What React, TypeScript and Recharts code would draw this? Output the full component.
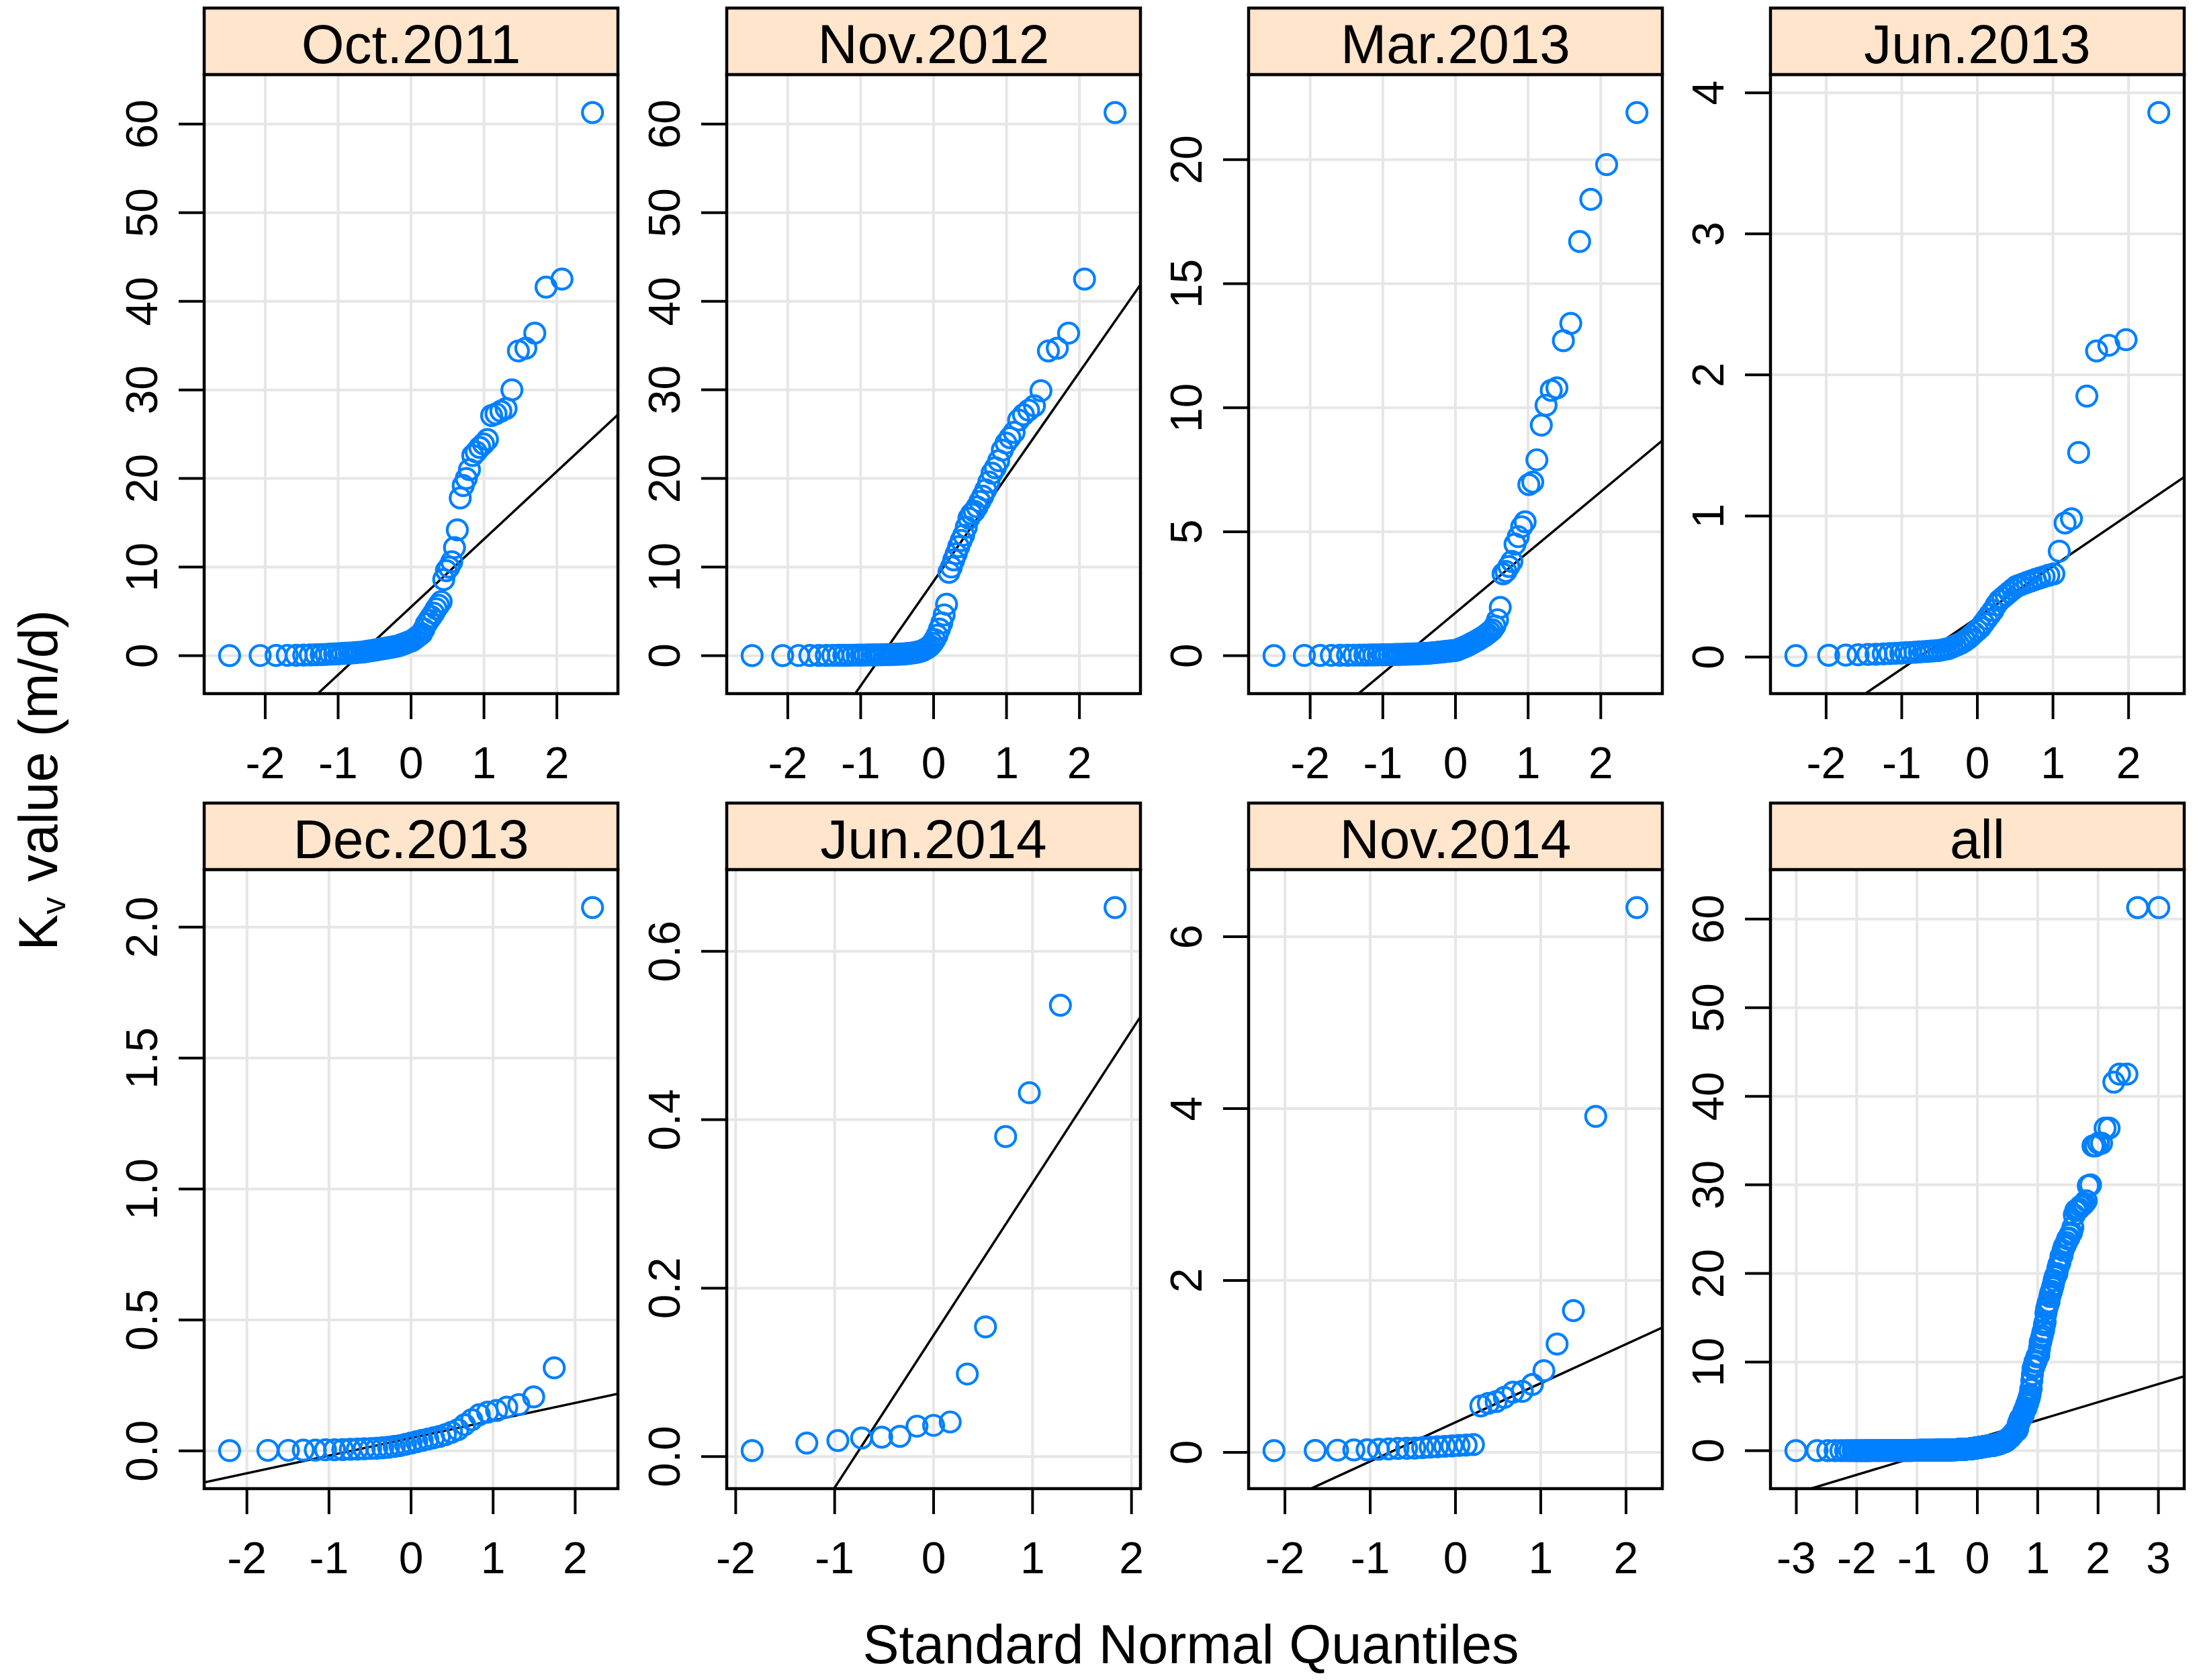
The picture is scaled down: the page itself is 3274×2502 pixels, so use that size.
import { ScatterChart, Scatter, XAxis, YAxis, CartesianGrid, ReferenceLine, ReferenceArea } from "recharts"

const FONT = '"Liberation Sans", Arial, Helvetica, sans-serif'

// sorted Kv samples (m/d)
const oct2011 = [
  0.01, 0.02, 0.03, 0.04, 0.05, 0.07, 0.08, 0.1, 0.13, 0.15,
  0.18, 0.2, 0.22, 0.25, 0.28, 0.3, 0.32, 0.35, 0.38, 0.4,
  0.45, 0.5, 0.55, 0.6, 0.65, 0.7, 0.75, 0.8, 0.85, 0.9,
  0.95, 1.0, 1.05, 1.1, 1.2, 1.3, 1.4, 1.5, 1.6, 1.7,
  1.9, 2.1, 2.3, 2.5, 3.0, 3.6, 4.0, 4.4, 4.8, 5.3,
  5.7, 6.1, 8.6, 9.6, 10.0, 10.6, 12.2, 14.2, 17.8, 19.2,
  20.0, 21.0, 22.6, 23.0, 23.5, 23.9, 24.4, 27.1, 27.3, 27.6,
  27.9, 30.0, 34.4, 34.7, 36.4, 41.6, 42.5, 61.3
]
const nov2012 = [
  0.005, 0.01, 0.015, 0.02, 0.025, 0.03, 0.035, 0.04, 0.045, 0.05,
  0.055, 0.06, 0.065, 0.07, 0.075, 0.08, 0.085, 0.09, 0.1, 0.11,
  0.12, 0.13, 0.14, 0.15, 0.16, 0.18, 0.2, 0.22, 0.25, 0.28,
  0.32, 0.36, 0.42, 0.5, 0.6, 0.75, 0.9, 1.1, 1.4, 1.8,
  2.3, 3.0, 3.7, 4.6, 5.8, 9.4, 10.0, 10.8, 11.5, 12.3,
  13.0, 13.6, 14.5, 15.5, 16.0, 16.3, 16.8, 17.4, 18.0, 18.7,
  19.6, 20.6, 21.2, 22.0, 23.2, 24.0, 24.6, 25.2, 26.6, 27.2,
  27.7, 28.2, 29.9, 34.4, 34.7, 36.4, 42.5, 61.3
]
const mar2013 = [
  0.005, 0.01, 0.012, 0.015, 0.018, 0.02, 0.022, 0.025, 0.028, 0.03,
  0.032, 0.035, 0.038, 0.04, 0.043, 0.046, 0.05, 0.053, 0.056, 0.06,
  0.064, 0.068, 0.072, 0.076, 0.08, 0.085, 0.09, 0.095, 0.1, 0.11,
  0.12, 0.13, 0.14, 0.15, 0.16, 0.17, 0.18, 0.19, 0.2, 0.21,
  0.22, 0.26, 0.3, 0.34, 0.38, 0.42, 0.47, 0.52, 0.57, 0.62,
  0.68, 0.74, 0.8, 0.88, 0.96, 1.05, 1.2, 1.45, 1.95, 3.3,
  3.4, 3.6, 3.8, 4.5, 4.8, 5.2, 5.4, 6.9, 7.0, 7.9,
  9.3, 10.1, 10.7, 10.8, 12.7, 13.4, 16.7, 18.4, 19.8, 21.9
]
const jun2013 = [
  0.01, 0.012, 0.014, 0.016, 0.018, 0.02, 0.022, 0.024, 0.026, 0.028,
  0.03, 0.032, 0.034, 0.036, 0.038, 0.04, 0.042, 0.044, 0.046, 0.05,
  0.055, 0.06, 0.07, 0.08, 0.09, 0.1, 0.115, 0.13, 0.15, 0.17,
  0.19, 0.21, 0.24, 0.27, 0.3, 0.33, 0.37, 0.4, 0.42, 0.44,
  0.46, 0.48, 0.5, 0.51, 0.52, 0.53, 0.54, 0.55, 0.56, 0.57,
  0.58, 0.59, 0.75, 0.95, 0.98, 1.45, 1.85, 2.17, 2.21, 2.25,
  3.86
]
const dec2013 = [
  0.001, 0.002, 0.002, 0.003, 0.003, 0.004, 0.004, 0.005, 0.006, 0.007,
  0.008, 0.009, 0.01, 0.012, 0.014, 0.017, 0.02, 0.025, 0.03, 0.035,
  0.04, 0.045, 0.05, 0.055, 0.062, 0.071, 0.081, 0.1, 0.119, 0.138,
  0.148, 0.154, 0.167, 0.177, 0.206, 0.317, 2.075
]
const jun2014 = [
  0.007, 0.016, 0.019, 0.022, 0.023, 0.024, 0.036, 0.037, 0.041, 0.098,
  0.154, 0.38, 0.432, 0.536, 0.652
]
const nov2014 = [
  0.02, 0.022, 0.025, 0.028, 0.03, 0.035, 0.04, 0.045, 0.048, 0.05,
  0.055, 0.06, 0.065, 0.07, 0.075, 0.08, 0.085, 0.09,
  0.54, 0.57, 0.59, 0.64, 0.7, 0.71, 0.79, 0.95, 1.26, 1.65, 3.91, 6.34
]

const panelNames = ["Oct.2011", "Nov.2012", "Mar.2013", "Jun.2013", "Dec.2013", "Jun.2014", "Nov.2014", "all"]
const samples = [oct2011, nov2012, mar2013, jun2013, dec2013, jun2014, nov2014]
const allSamples = samples.flat()

// reference line through the quartiles: intercept + slope * quantile
const lineIntercepts = [5.5, 8.4, 1.73, 0.28, 0.049, 0.144, 0.349, 1.37]
const lineSlopes = [7.65, 11.8, 2.44, 0.364, 0.0672, 0.181, 0.455, 2.05]

const xTicksStd = [-2, -1, 0, 1, 2]
const xTicksAll = [-3, -2, -1, 0, 1, 2, 3]
const yTicks = [
  [0, 10, 20, 30, 40, 50, 60],
  [0, 10, 20, 30, 40, 50, 60],
  [0, 5, 10, 15, 20],
  [0, 1, 2, 3, 4],
  [0, 0.5, 1, 1.5, 2],
  [0, 0.2, 0.4, 0.6],
  [0, 2, 4, 6],
  [0, 10, 20, 30, 40, 50, 60]
]
const yDecimals = [0, 0, 0, 0, 1, 1, 0, 0]

const COL_LEFT = [304, 1082, 1859, 2636]
const ROW_TOP = [111, 1295]
const PLOT_W = 616
const PLOT_H = 922
const STRIP_H = 99
const AXIS_W = 200
const AXIS_H = 160

// inverse of the standard normal cdf (Acklam)
function qnorm(p: number) {
  const a = [-39.69683028665376, 220.9460984245205, -275.9285104469687, 138.357751867269, -30.66479806614716, 2.506628277459239]
  const b = [-54.47609879822406, 161.5858368580409, -155.6989798598866, 66.80131188771972, -13.28068155288572]
  const c = [-0.007784894002430293, -0.3223964580411365, -2.400758277161838, -2.549671503252720, 4.374664141464968, 2.938163982698783]
  const d = [0.007784695709041462, 0.3224671290700398, 2.445134137142996, 3.754408661907416]
  const lo = 0.02425
  if (p < lo) {
    const q = Math.sqrt(-2 * Math.log(p))
    return (((((c[0] * q + c[1]) * q + c[2]) * q + c[3]) * q + c[4]) * q + c[5]) / ((((d[0] * q + d[1]) * q + d[2]) * q + d[3]) * q + 1)
  }
  if (p > 1 - lo) {
    const q = Math.sqrt(-2 * Math.log(1 - p))
    return -(((((c[0] * q + c[1]) * q + c[2]) * q + c[3]) * q + c[4]) * q + c[5]) / ((((d[0] * q + d[1]) * q + d[2]) * q + d[3]) * q + 1)
  }
  const q = p - 0.5
  const r = q * q
  return ((((((a[0] * r + a[1]) * r + a[2]) * r + a[3]) * r + a[4]) * r + a[5]) * q) / (((((b[0] * r + b[1]) * r + b[2]) * r + b[3]) * r + b[4]) * r + 1)
}

// qqmath positions: ppoints(n) against the sorted sample
const toQQ = (values: number[]) => {
  const s = [...values].sort((u, v) => u - v)
  const n = s.length
  const a = n <= 10 ? 3 / 8 : 0.5
  return s.map((y, i) => ({ x: qnorm((i + 1 - a) / (n + 1 - 2 * a)), y }))
}

const extend = (lo: number, hi: number) => {
  const d = hi - lo
  return [lo - 0.07 * d, hi + 0.07 * d]
}

const Ring = (props: any) => {
  if (props.cx == null || props.cy == null) return null
  return <circle cx={props.cx} cy={props.cy} r={15} fill="none" stroke="#0080ff" strokeWidth={4.2} />
}

const makeXTick = () => (props: any) => {
  const { x, y, payload } = props
  return (
    <text x={x} y={y + 86} textAnchor="middle" fontSize={66} fontFamily={FONT} fill="#000">
      {String(payload.value)}
    </text>
  )
}

const makeYTick = (dec: number) => (props: any) => {
  const { x, y, payload } = props
  const bx = x - 30
  return (
    <text x={bx} y={y} transform={`rotate(-90 ${bx} ${y})`} textAnchor="middle" fontSize={66} fontFamily={FONT} fill="#000">
      {Number(payload.value).toFixed(dec)}
    </text>
  )
}

const Panel = ({ idx }: { idx: number }) => {
  const values = idx < 7 ? samples[idx] : allSamples
  const pts = toQQ(values)
  const xs = pts.map((p) => p.x)
  const ys = pts.map((p) => p.y)
  const [xlo, xhi] = extend(Math.min(...xs), Math.max(...xs))
  const [ylo, yhi] = extend(Math.min(...ys), Math.max(...ys))
  const a = lineIntercepts[idx]
  const b = lineSlopes[idx]
  const col = idx % 4
  const row = Math.floor(idx / 4)
  const left = COL_LEFT[col] - AXIS_W
  const top = ROW_TOP[row] - 10
  return (
    <div style={{ position: "absolute", left, top }}>
      <ScatterChart
        width={AXIS_W + PLOT_W + 10}
        height={10 + PLOT_H + AXIS_H}
        margin={{ top: 10, right: 10, bottom: 0, left: 0 }}
      >
        <CartesianGrid stroke="#e6e6e6" strokeWidth={4} />
        <XAxis
          type="number"
          dataKey="x"
          domain={[xlo, xhi]}
          allowDataOverflow
          ticks={idx === 7 ? xTicksAll : xTicksStd}
          interval={0}
          height={AXIS_H}
          tickSize={38}
          axisLine={false}
          tickLine={{ stroke: "#000", strokeWidth: 4 }}
          tick={makeXTick()}
        />
        <YAxis
          type="number"
          dataKey="y"
          domain={[ylo, yhi]}
          allowDataOverflow
          ticks={yTicks[idx]}
          interval={0}
          width={AXIS_W}
          tickSize={38}
          axisLine={false}
          tickLine={{ stroke: "#000", strokeWidth: 4 }}
          tick={makeYTick(yDecimals[idx])}
        />
        <Scatter data={pts} shape={Ring} isAnimationActive={false} />
        <ReferenceLine
          segment={[{ x: xlo, y: a + b * xlo }, { x: xhi, y: a + b * xhi }]}
          stroke="#000"
          strokeWidth={3.5}
          ifOverflow="hidden"
        />
        <ReferenceArea x1={xlo} x2={xhi} y1={ylo} y2={yhi} fill="none" fillOpacity={0} stroke="#000" strokeWidth={4.5} ifOverflow="visible" />
      </ScatterChart>
    </div>
  )
}

const App = () => {
  return (
    <div style={{ position: "absolute", left: 0, top: 0, width: 3274, height: 2502, background: "#fff", overflow: "hidden" }}>
      {panelNames.map((_, i) => (
        <Panel key={i} idx={i} />
      ))}
      <svg width={3274} height={2502} style={{ position: "absolute", left: 0, top: 0, pointerEvents: "none" }}>
        {panelNames.map((name, i) => {
          const x = COL_LEFT[i % 4]
          const y = ROW_TOP[Math.floor(i / 4)] - STRIP_H
          return (
            <g key={name}>
              <rect x={x} y={y} width={PLOT_W} height={STRIP_H} fill="#ffe5cc" stroke="#000" strokeWidth={4.5} />
              <text x={x + PLOT_W / 2} y={y + 82} textAnchor="middle" fontSize={82} fontFamily={FONT} fill="#000">
                {name}
              </text>
            </g>
          )
        })}
        <text x={1773} y={2477} textAnchor="middle" fontSize={81} fontFamily={FONT} fill="#000">
          Standard Normal Quantiles
        </text>
        <text x={85} y={1162} transform="rotate(-90 85 1162)" textAnchor="middle" fontSize={81} fontFamily={FONT} fill="#000">
          K<tspan fontSize={52} dy={12}>v</tspan>
          <tspan dy={-12}> value (m/d)</tspan>
        </text>
      </svg>
    </div>
  )
}

export default App
